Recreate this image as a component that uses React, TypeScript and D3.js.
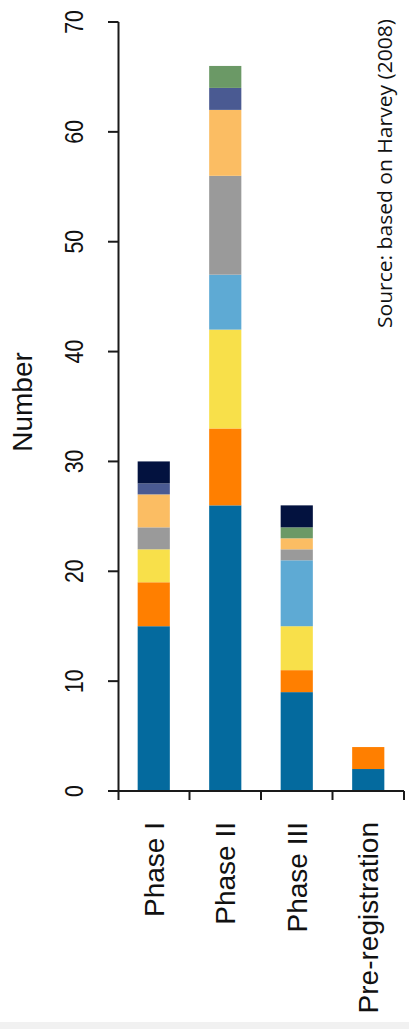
import React from "react";
import * as d3 from "d3";

// Development stages (x categories)
const stages = ["Phase I", "Phase II", "Phase III", "Pre-registration"];

// Stacked series, bottom to top; one value per stage
const seriesNames = ["s1", "s2", "s3", "s4", "s5", "s6", "s7", "s8", "s9"];
const s1 = [15, 26, 9, 2];
const s2 = [4, 7, 2, 2];
const s3 = [3, 9, 4, 0];
const s4 = [0, 5, 6, 0];
const s5 = [2, 9, 1, 0];
const s6 = [3, 6, 1, 0];
const s7 = [1, 2, 0, 0];
const s8 = [0, 2, 1, 0];
const s9 = [2, 0, 2, 0];
const seriesValues = [s1, s2, s3, s4, s5, s6, s7, s8, s9];
const seriesColors = [
  "#046a9e",
  "#ff7f00",
  "#f8e04a",
  "#5eaad4",
  "#9a9a9a",
  "#fbbd63",
  "#4a5a92",
  "#6b9966",
  "#03123f",
];

const yTicks = [0, 10, 20, 30, 40, 50, 60, 70];
const yLabel = "Number";
const sourceNote = "Source: based on Harvey (2008)";

const W = 409;
const H = 1029;

export default function App() {
  const x = d3
    .scaleBand<string>()
    .domain(stages)
    .range([118, 404])
    .paddingInner(0.55)
    .paddingOuter(0.275);
  const y = d3.scaleLinear().domain([0, 70]).range([791, 22]);

  const rows = stages.map((st, i) => {
    const r: Record<string, any> = { stage: st };
    seriesNames.forEach((n, k) => (r[n] = seriesValues[k][i]));
    return r;
  });
  const stacked = d3.stack<any>().keys(seriesNames)(rows);

  const step = x.step();
  const boundaries = stages.map((_, i) => 118 + step * (i + 1));
  const font = "'Liberation Sans', Arial, sans-serif";
  const axisColor = "#1a1a1a";

  return (
    <svg
      width={W}
      height={H}
      style={{ position: "absolute", left: 0, top: 0, background: "#fff" }}
    >
      <rect x={0} y={0} width={W} height={H} fill="#fff" />
      <rect x={0} y={1022} width={W} height={7} fill="#f1f1f1" />

      {/* stacked bars */}
      {stacked.map((layer, k) => (
        <g key={seriesNames[k]} fill={seriesColors[k]}>
          {layer.map((d, i) =>
            d[1] - d[0] > 0 ? (
              <rect
                key={i}
                x={x(stages[i])}
                width={x.bandwidth()}
                y={y(d[1])}
                height={y(d[0]) - y(d[1])}
              />
            ) : null
          )}
        </g>
      ))}

      {/* y axis */}
      <line x1={118.5} x2={118.5} y1={y(70)} y2={800} stroke={axisColor} strokeWidth={2} />
      {yTicks.map((t) => (
        <g key={t}>
          <line x1={108} x2={118.5} y1={y(t)} y2={y(t)} stroke={axisColor} strokeWidth={2} />
          <text
            transform={`translate(83,${y(t)}) rotate(-90) scale(0.85,1)`}
            textAnchor="middle"
            fontFamily={font}
            fontSize={25}
            fill="#111"
          >
            {t}
          </text>
        </g>
      ))}
      <text
        transform={`translate(32,${402}) rotate(-90)`}
        textAnchor="middle"
        fontFamily={font}
        fontSize={28}
        fill="#111"
      >
        {yLabel}
      </text>

      {/* x axis */}
      <line x1={108} x2={404} y1={y(0)} y2={y(0)} stroke={axisColor} strokeWidth={2} />
      {boundaries.map((bx, i) => (
        <line key={i} x1={bx} x2={bx} y1={y(0)} y2={800} stroke={axisColor} strokeWidth={2} />
      ))}
      {stages.map((st) => (
        <text
          key={st}
          transform={`translate(${(x(st) as number) + x.bandwidth() / 2 + 10},822) rotate(-90)`}
          textAnchor="end"
          fontFamily={font}
          fontSize={28}
          fill="#111"
        >
          {st}
        </text>
      ))}

      {/* source note */}
      <text
        transform={`translate(392,328) rotate(-90)`}
        textAnchor="start"
        fontFamily="'Open Sans', 'Noto Sans', sans-serif"
        fontSize={20}
        textLength={309}
        lengthAdjust="spacingAndGlyphs"
        fill="#111"
      >
        {sourceNote}
      </text>
    </svg>
  );
}
